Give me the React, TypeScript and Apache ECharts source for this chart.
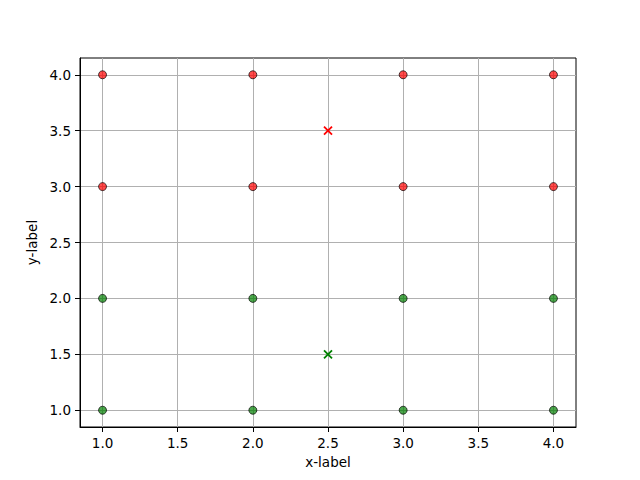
import React, { useEffect, useRef } from "react";
import * as echarts from "echarts";

const xTicks = [1.0, 1.5, 2.0, 2.5, 3.0, 3.5, 4.0];
const yTicks = [1.0, 1.5, 2.0, 2.5, 3.0, 3.5, 4.0];
const redPoints = [[1, 4], [2, 4], [3, 4], [4, 4], [1, 3], [2, 3], [3, 3], [4, 3]];
const greenPoints = [[1, 2], [2, 2], [3, 2], [4, 2], [1, 1], [2, 1], [3, 1], [4, 1]];
const redCross = [[2.5, 3.5]];
const greenCross = [[2.5, 1.5]];

const FONT = "DejaVu Sans";
const crossPath = "path://M0,0L10,10M10,0L0,10";

export default function App() {
  const ref = useRef<HTMLDivElement>(null);
  useEffect(() => {
    const chart = echarts.init(ref.current!, null, { renderer: "svg" });
    const axisCommon = {
      type: "value" as const,
      min: 0.85,
      max: 4.15,
      axisLine: { show: true, onZero: false, lineStyle: { color: "#000", width: 1 } },
      axisTick: { show: true, length: 5, customValues: xTicks, lineStyle: { color: "#000", width: 1 } },
      splitLine: { show: true, lineStyle: { color: "#b0b0b0", width: 1 } },
      nameLocation: "middle" as const,
      nameTextStyle: { fontFamily: FONT, fontSize: 13.5, color: "#000" },
    };
    chart.setOption({
      animation: false,
      backgroundColor: "#fff",
      grid: { left: 80, top: 58, width: 496, height: 369, show: true, borderColor: "#000", borderWidth: 1, backgroundColor: "transparent" },
      xAxis: {
        ...axisCommon,
        name: "x-label",
        nameGap: 27,
        axisTick: { ...axisCommon.axisTick, customValues: xTicks },
        axisLabel: {
          customValues: xTicks,
          margin: 9,
          fontFamily: FONT,
          fontSize: 13.5,
          color: "#000",
          formatter: (v: number) => v.toFixed(1),
        },
      },
      yAxis: {
        ...axisCommon,
        name: "y-label",
        nameGap: 38,
        nameRotate: 90,
        axisTick: { ...axisCommon.axisTick, customValues: yTicks },
        axisLabel: {
          customValues: yTicks,
          margin: 9,
          fontFamily: FONT,
          fontSize: 13.5,
          color: "#000",
          formatter: (v: number) => v.toFixed(1),
        },
      },
      series: [
        {
          type: "scatter",
          data: redPoints,
          symbol: "circle",
          symbolSize: 8,
          itemStyle: { color: "rgba(255,0,0,0.7)", borderColor: "rgba(0,0,0,0.7)", borderWidth: 1, opacity: 1 },
        },
        {
          type: "scatter",
          data: greenPoints,
          symbol: "circle",
          symbolSize: 8,
          itemStyle: { color: "rgba(0,128,0,0.7)", borderColor: "rgba(0,0,0,0.7)", borderWidth: 1, opacity: 1 },
        },
        {
          type: "scatter",
          data: redCross,
          symbol: crossPath,
          symbolSize: 8,
          itemStyle: { color: "none", borderColor: "#ff0000", borderWidth: 1.8, opacity: 1 },
        },
        {
          type: "scatter",
          data: greenCross,
          symbol: crossPath,
          symbolSize: 8,
          itemStyle: { color: "none", borderColor: "#008000", borderWidth: 1.8, opacity: 1 },
        },
      ],
    });
    return () => chart.dispose();
  }, []);
  return <div ref={ref} style={{ position: "fixed", left: 0, top: 0, width: 640, height: 480 }} />;
}
